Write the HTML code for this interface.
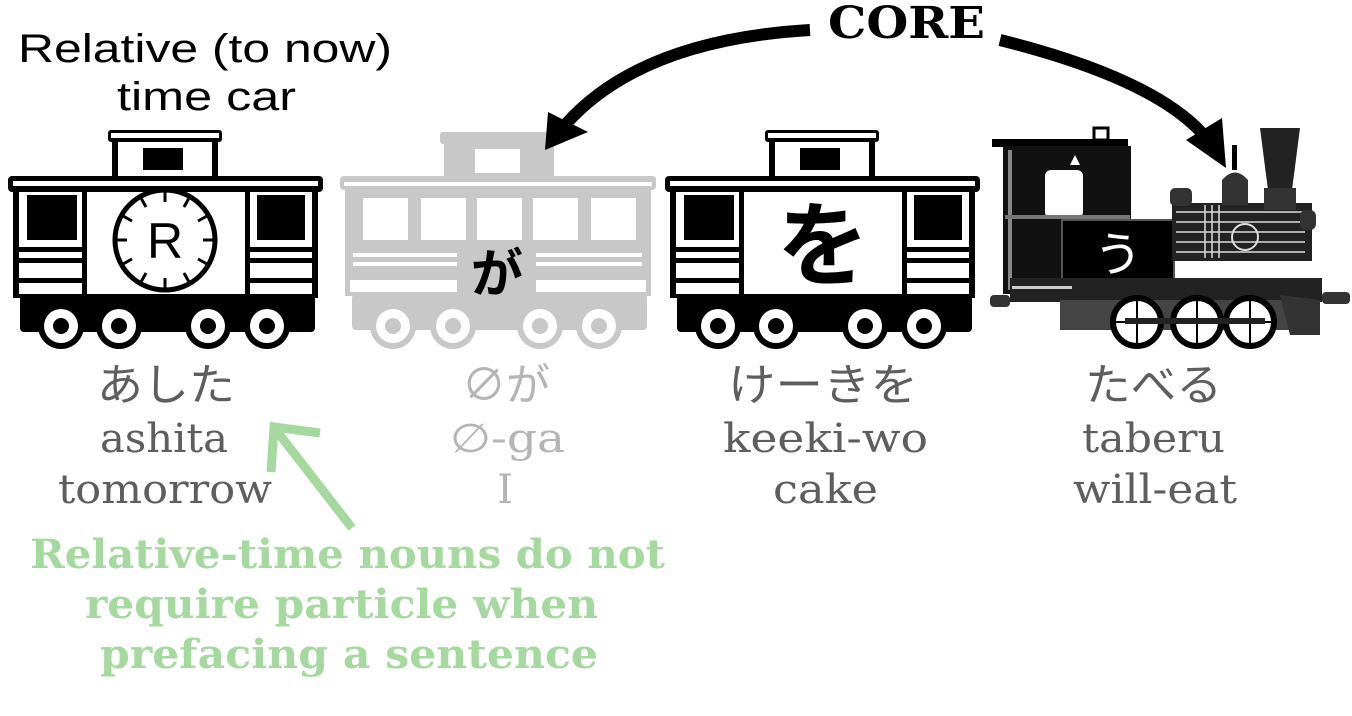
<!DOCTYPE html>
<html><head><meta charset="utf-8"><style>
html,body{margin:0;padding:0;background:#fff;}
svg{display:block;}
.g{font-family:"DejaVu Serif","Liberation Serif",serif;}
.j{font-family:"Noto Sans CJK JP",sans-serif;}
</style></head><body>
<svg width="1352" height="716" viewBox="0 0 1352 716" xmlns="http://www.w3.org/2000/svg">
<defs>
<g id="cab">
  <rect x="108" y="130" width="114" height="12" rx="3" fill="currentColor"/>
  <rect x="111" y="133" width="108" height="5" fill="#fff"/>
  <rect x="112" y="140" width="106" height="40" fill="currentColor"/>
  <rect x="118" y="142" width="94" height="36" fill="#fff"/>
  <rect x="143" y="148" width="40" height="22" fill="currentColor"/>
  <rect x="8" y="176" width="315" height="16" rx="4" fill="currentColor"/>
  <rect x="13" y="181" width="305" height="5" fill="#fff"/>
  <rect x="13" y="188" width="305" height="110" fill="currentColor"/>
  <rect x="19" y="192" width="293" height="102" fill="#fff"/>
  <rect x="27" y="195" width="50" height="45" fill="currentColor"/>
  <rect x="257" y="195" width="48" height="45" fill="currentColor"/>
  <rect x="17" y="247" width="300" height="5" fill="currentColor"/>
  <rect x="17" y="258" width="300" height="5" fill="currentColor"/>
  <rect x="17" y="278" width="300" height="5" fill="currentColor"/>
  <rect x="20" y="294" width="295" height="38" rx="4" fill="currentColor"/>
  <g fill="currentColor">
    <circle cx="61" cy="326" r="23"/><circle cx="119" cy="326" r="23"/>
    <circle cx="208" cy="326" r="23"/><circle cx="267" cy="326" r="23"/>
  </g>
  <g fill="#fff">
    <circle cx="61" cy="326" r="17"/><circle cx="119" cy="326" r="17"/>
    <circle cx="208" cy="326" r="17"/><circle cx="267" cy="326" r="17"/>
  </g>
  <g fill="currentColor">
    <circle cx="61" cy="326" r="8"/><circle cx="119" cy="326" r="8"/>
    <circle cx="208" cy="326" r="8"/><circle cx="267" cy="326" r="8"/>
  </g>
</g>
</defs>

<g color="#000">
  <use href="#cab"/>
  <rect x="82" y="188" width="168" height="108" fill="#000"/>
  <rect x="87" y="192" width="158" height="102" fill="#fff"/>
  <circle cx="165" cy="240" r="50" fill="#fff" stroke="#000" stroke-width="5"/>
  <g stroke="#000" stroke-width="3">
    <line x1="165" y1="192" x2="165" y2="202"/><line x1="165" y1="278" x2="165" y2="288"/>
    <line x1="117" y1="240" x2="127" y2="240"/><line x1="203" y1="240" x2="213" y2="240"/>
    <line x1="141" y1="198" x2="146" y2="207"/><line x1="189" y1="198" x2="184" y2="207"/>
    <line x1="141" y1="282" x2="146" y2="273"/><line x1="189" y1="282" x2="184" y2="273"/>
    <line x1="123" y1="216" x2="132" y2="221"/><line x1="207" y1="216" x2="198" y2="221"/>
    <line x1="123" y1="264" x2="132" y2="259"/><line x1="207" y1="264" x2="198" y2="259"/>
  </g>
  <text x="165" y="258" text-anchor="middle" font-family="Liberation Sans" font-size="50" fill="#000">R</text>
</g>

<g fill="#c8c8c8">
  <rect x="440" y="132" width="118" height="12" rx="3"/>
  <rect x="444" y="142" width="110" height="38"/>
  <rect x="340" y="176" width="316" height="14" rx="4"/>
  <rect x="345" y="188" width="306" height="108"/>
  <rect x="352" y="294" width="295" height="36" rx="4"/>
  <circle cx="393" cy="326" r="23"/><circle cx="453" cy="326" r="23"/>
  <circle cx="540" cy="326" r="23"/><circle cx="599" cy="326" r="23"/>
</g>
<g fill="#fff">
  <rect x="475" y="149" width="45" height="24"/>
  <rect x="344" y="182" width="308" height="4"/>
  <rect x="363" y="198" width="45" height="42"/><rect x="421" y="198" width="45" height="42"/>
  <rect x="477" y="198" width="45" height="42"/><rect x="533" y="198" width="45" height="42"/>
  <rect x="591" y="198" width="45" height="42"/>
  <rect x="353" y="253" width="104" height="4"/><rect x="536" y="253" width="106" height="4"/>
  <rect x="353" y="262" width="104" height="4"/><rect x="536" y="262" width="106" height="4"/>
  <rect x="350" y="280" width="107" height="12"/><rect x="536" y="280" width="110" height="12"/>
  <circle cx="393" cy="326" r="17"/><circle cx="453" cy="326" r="17"/>
  <circle cx="540" cy="326" r="17"/><circle cx="599" cy="326" r="17"/>
</g>
<g fill="#c8c8c8">
  <circle cx="393" cy="326" r="8"/><circle cx="453" cy="326" r="8"/>
  <circle cx="540" cy="326" r="8"/><circle cx="599" cy="326" r="8"/>
</g>
<text x="497" y="292" text-anchor="middle" class="j" font-weight="bold" font-size="52" fill="#000">が</text>

<g color="#000" transform="translate(657,0)">
  <use href="#cab"/>
  <rect x="82" y="188" width="168" height="108" fill="#000"/>
  <rect x="87" y="192" width="158" height="102" fill="#fff"/>
</g>
<text x="823" y="278" text-anchor="middle" class="j" font-weight="bold" font-size="92" fill="#000">を</text>

<g>
  <rect x="992" y="139" width="136" height="8" fill="#000"/>
  <rect x="1094" y="128" width="14" height="12" fill="none" stroke="#000" stroke-width="3"/>
  <rect x="1003" y="146" width="128" height="148" fill="#111"/>
  <rect x="1045" y="170" width="38" height="48" rx="6" fill="#fff"/>
  <rect x="1008" y="150" width="4" height="140" fill="#888"/>
  <rect x="1005" y="215" width="125" height="4" fill="#777"/>
  <polygon points="1070,165 1075,155 1080,165" fill="#fff"/>
  <rect x="1062" y="220" width="112" height="64" fill="#000" stroke="#555" stroke-width="2"/>
  <text x="1118" y="271" text-anchor="middle" class="j" font-size="48" fill="#fff">う</text>
  <rect x="1172" y="203" width="140" height="58" fill="#222"/>
  <g stroke="#ddd" stroke-width="1.5">
    <line x1="1176" y1="212" x2="1305" y2="212"/><line x1="1176" y1="222" x2="1305" y2="222"/>
    <line x1="1176" y1="232" x2="1305" y2="232"/><line x1="1176" y1="242" x2="1305" y2="242"/>
    <line x1="1176" y1="252" x2="1305" y2="252"/>
    <line x1="1205" y1="205" x2="1205" y2="258"/><line x1="1212" y1="205" x2="1212" y2="258"/><line x1="1219" y1="205" x2="1219" y2="258"/>
  </g>
  <circle cx="1245" cy="237" r="13" fill="none" stroke="#ddd" stroke-width="2"/>
  <rect x="1170" y="188" width="22" height="18" rx="5" fill="#333"/>
  <path d="M1222 205 L1222 180 Q1235 165 1248 180 L1248 205 Z" fill="#333"/>
  <rect x="1232" y="145" width="5" height="25" fill="#000"/>
  <polygon points="1260,128 1300,128 1292,190 1268,190" fill="#222"/>
  <rect x="1264" y="188" width="32" height="22" fill="#333"/>
  <rect x="1300" y="210" width="16" height="20" rx="6" fill="#333"/>
  <rect x="1010" y="278" width="312" height="24" fill="#222"/>
  <rect x="1012" y="286" width="60" height="3" fill="#ccc"/>
  <rect x="990" y="295" width="20" height="12" rx="4" fill="#333"/>
  <rect x="1322" y="292" width="28" height="12" rx="4" fill="#333"/>
  <rect x="1060" y="300" width="250" height="30" fill="#444"/>
  <polygon points="1280,295 1320,300 1320,335 1290,335" fill="#333"/>
  <g fill="#fff" stroke="#000" stroke-width="6">
    <circle cx="1137" cy="322" r="24"/><circle cx="1197" cy="322" r="24"/><circle cx="1250" cy="322" r="24"/>
  </g>
  <g stroke="#000" stroke-width="2">
    <line x1="1113" y1="322" x2="1161" y2="322"/><line x1="1137" y1="298" x2="1137" y2="346"/>
    <line x1="1173" y1="322" x2="1221" y2="322"/><line x1="1197" y1="298" x2="1197" y2="346"/>
    <line x1="1226" y1="322" x2="1274" y2="322"/><line x1="1250" y1="298" x2="1250" y2="346"/>
  </g>
  <rect x="1125" y="318" width="140" height="6" fill="#222"/>
</g>

<path d="M810 30 Q640 40 565 125" fill="none" stroke="#000" stroke-width="12"/>
<polygon points="545,150 548,112 588,132" fill="#000"/>
<path d="M1000 40 Q1160 80 1208 140" fill="none" stroke="#000" stroke-width="12"/>
<polygon points="1226,168 1186,140 1222,118" fill="#000"/>
<text x="828" y="38" textLength="157" lengthAdjust="spacingAndGlyphs" font-family="DejaVu Serif" font-weight="bold" font-size="44" fill="#000">CORE</text>

<text x="18" y="62" textLength="374" lengthAdjust="spacingAndGlyphs" font-family="Liberation Sans" font-size="40" fill="#000">Relative (to now)</text>
<text x="117" y="110" textLength="179" lengthAdjust="spacingAndGlyphs" font-family="Liberation Sans" font-size="40" fill="#000">time car</text>

<g class="g" font-size="40" fill="#5e5e5e">
  <text x="97" y="400" textLength="138" lengthAdjust="spacingAndGlyphs" class="j" font-size="44">あした</text>
  <text x="100" y="452" textLength="128" lengthAdjust="spacingAndGlyphs">ashita</text>
  <text x="58" y="503" textLength="214" lengthAdjust="spacingAndGlyphs">tomorrow</text>
  <text x="728" y="400" textLength="190" lengthAdjust="spacingAndGlyphs" class="j" font-size="44">けーきを</text>
  <text x="723" y="452" textLength="205" lengthAdjust="spacingAndGlyphs">keeki-wo</text>
  <text x="773" y="503" textLength="105" lengthAdjust="spacingAndGlyphs">cake</text>
  <text x="1085" y="400" textLength="137" lengthAdjust="spacingAndGlyphs" class="j" font-size="44">たべる</text>
  <text x="1082" y="452" textLength="143" lengthAdjust="spacingAndGlyphs">taberu</text>
  <text x="1073" y="503" textLength="164" lengthAdjust="spacingAndGlyphs">will-eat</text>
</g>
<g class="g" font-size="40" fill="#b5b5b5">
  <text x="462" y="400" textLength="88" lengthAdjust="spacingAndGlyphs" class="j" font-size="44">∅が</text>
  <text x="450" y="452" textLength="115" lengthAdjust="spacingAndGlyphs">∅-ga</text>
  <text x="505" y="503" text-anchor="middle">I</text>
</g>

<line x1="352" y1="528" x2="276" y2="430" stroke="#a6d9a0" stroke-width="9"/>
<polyline points="271,472 274,427 320,433" fill="none" stroke="#a6d9a0" stroke-width="9" stroke-linejoin="miter"/>
<g class="g" font-weight="bold" font-size="40" fill="#a6d9a0">
  <text x="30" y="568" textLength="635" lengthAdjust="spacingAndGlyphs">Relative-time nouns do not</text>
  <text x="85" y="618" textLength="513" lengthAdjust="spacingAndGlyphs">require particle when</text>
  <text x="100" y="668" textLength="498" lengthAdjust="spacingAndGlyphs">prefacing a sentence</text>
</g>
</svg>
</body></html>
